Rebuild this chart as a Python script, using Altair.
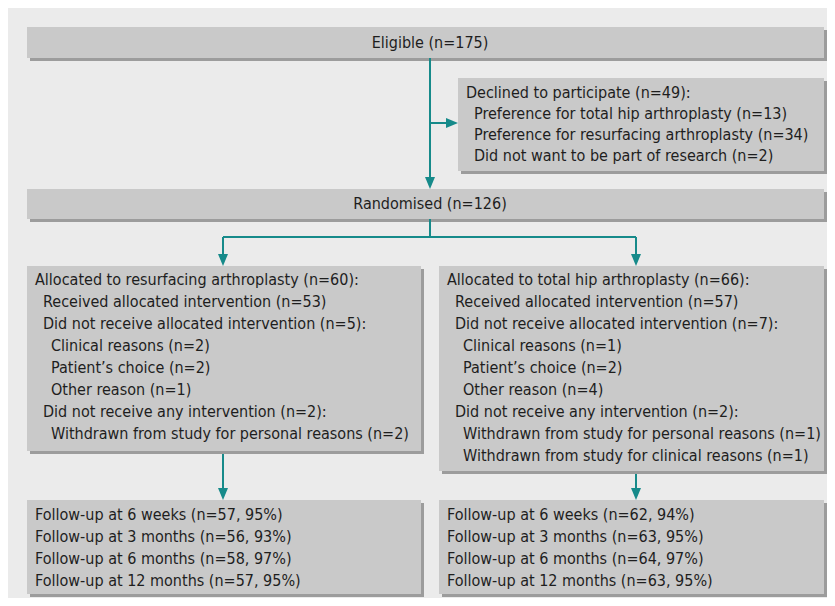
import altair as alt
import pandas as pd

# ---- text content ----
eligible_text = ["Eligible (n=175)"]
declined_text = [
    "Declined to participate (n=49):",
    "Preference for total hip arthroplasty (n=13)",
    "Preference for resurfacing arthroplasty (n=34)",
    "Did not want to be part of research (n=2)",
]
declined_level = [0, 1, 1, 1]
randomised_text = ["Randomised (n=126)"]
left_alloc_text = [
    "Allocated to resurfacing arthroplasty (n=60):",
    "Received allocated intervention (n=53)",
    "Did not receive allocated intervention (n=5):",
    "Clinical reasons (n=2)",
    "Patient\u2019s choice (n=2)",
    "Other reason (n=1)",
    "Did not receive any intervention (n=2):",
    "Withdrawn from study for personal reasons (n=2)",
]
left_alloc_level = [0, 1, 1, 2, 2, 2, 1, 2]
right_alloc_text = [
    "Allocated to total hip arthroplasty (n=66):",
    "Received allocated intervention (n=57)",
    "Did not receive allocated intervention (n=7):",
    "Clinical reasons (n=1)",
    "Patient\u2019s choice (n=2)",
    "Other reason (n=4)",
    "Did not receive any intervention (n=2):",
    "Withdrawn from study for personal reasons (n=1)",
    "Withdrawn from study for clinical reasons (n=1)",
]
right_alloc_level = [0, 1, 1, 2, 2, 2, 1, 2, 2]
left_follow_text = [
    "Follow-up at 6 weeks (n=57, 95%)",
    "Follow-up at 3 months (n=56, 93%)",
    "Follow-up at 6 months (n=58, 97%)",
    "Follow-up at 12 months (n=57, 95%)",
]
right_follow_text = [
    "Follow-up at 6 weeks (n=62, 94%)",
    "Follow-up at 3 months (n=63, 95%)",
    "Follow-up at 6 months (n=64, 97%)",
    "Follow-up at 12 months (n=63, 95%)",
]

# ---- layout (page pixel coordinates) ----
boxes = {
    "eligible": (27, 27, 824, 58),
    "declined": (458, 78, 824, 171),
    "randomised": (27, 189, 824, 219),
    "left_alloc": (27, 266, 421, 451),
    "right_alloc": (439, 266, 824, 471),
    "left_follow": (27, 500, 421, 594),
    "right_follow": (439, 500, 824, 594),
}

box_rows = []
for k, (x1, y1, x2, y2) in boxes.items():
    box_rows.append(dict(name=k, x=x1, x2=x2, y=y1, y2=y2,
                         sx=x1 + 3, sx2=x2 + 3, sy=y1 + 3, sy2=y2 + 3))
box_df = pd.DataFrame(box_rows)
bg_df = pd.DataFrame([dict(x=8, x2=827, y=8, y2=598)])

text_rows = []
def add_block(lines, levels, box, first, step, indent=8):
    x1 = boxes[box][0]
    for i, (t, lv) in enumerate(zip(lines, levels)):
        text_rows.append(dict(t=t, x=x1 + 8 + lv * indent, y=first + i * step))

add_block(declined_text, declined_level, "declined", 93, 21)
add_block(left_alloc_text, left_alloc_level, "left_alloc", 280, 22)
add_block(right_alloc_text, right_alloc_level, "right_alloc", 280, 22)
add_block(left_follow_text, [0] * 4, "left_follow", 515, 22)
add_block(right_follow_text, [0] * 4, "right_follow", 515, 22)
left_df = pd.DataFrame(text_rows)
center_df = pd.DataFrame([
    dict(t=eligible_text[0], x=430, y=43),
    dict(t=randomised_text[0], x=430, y=204),
])

lines_df = pd.DataFrame([
    dict(x=430, x2=430, y=58, y2=184),
    dict(x=430, x2=454, y=123, y2=123),
    dict(x=430, x2=430, y=219, y2=237),
    dict(x=223, x2=636, y=237, y2=237),
    dict(x=223, x2=223, y=237, y2=262),
    dict(x=636, x2=636, y=237, y2=262),
    dict(x=223, x2=223, y=454, y2=496),
    dict(x=636, x2=636, y=474, y2=496),
])
down_tips = pd.DataFrame([
    dict(x=430, y=189), dict(x=223, y=266), dict(x=636, y=266),
    dict(x=223, y=500), dict(x=636, y=500),
])
right_tips = pd.DataFrame([dict(x=458, y=123)])

XS = alt.Scale(domain=[8, 827], nice=False, zero=False)
YS = alt.Scale(domain=[598, 8], nice=False, zero=False)
TEAL = "#168a8a"
FONT = "DejaVu Sans Condensed"
FS = 16

def X(f="x"):
    return alt.X(f"{f}:Q", scale=XS, axis=None)

def Y(f="y"):
    return alt.Y(f"{f}:Q", scale=YS, axis=None)

bg = alt.Chart(bg_df).mark_rect(color="#ebebeb").encode(
    x=X(), x2="x2:Q", y=Y(), y2="y2:Q")
shadow = alt.Chart(box_df).mark_rect(color="#9c9c9c").encode(
    x=X("sx"), x2="sx2:Q", y=Y("sy"), y2="sy2:Q")
box = alt.Chart(box_df).mark_rect(color="#c9c9c9").encode(
    x=X(), x2="x2:Q", y=Y(), y2="y2:Q")
rules = alt.Chart(lines_df).mark_rule(color=TEAL, strokeWidth=2).encode(
    x=X(), x2="x2:Q", y=Y(), y2="y2:Q")
dtips = alt.Chart(down_tips).mark_point(
    shape="M-1,-2.4L1,-2.4L0,0Z", filled=True, size=100, color=TEAL, opacity=1, strokeWidth=0
).encode(x=X(), y=Y())
rtips = alt.Chart(right_tips).mark_point(
    shape="M-2.4,-1L-2.4,1L0,0Z", filled=True, size=100, color=TEAL, opacity=1, strokeWidth=0
).encode(x=X(), y=Y())
ltext = alt.Chart(left_df).mark_text(
    align="left", baseline="middle", font=FONT, fontSize=FS, color="#1e1e1e"
).encode(x=X(), y=Y(), text="t:N")
ctext = alt.Chart(center_df).mark_text(
    align="center", baseline="middle", font=FONT, fontSize=FS, color="#1e1e1e"
).encode(x=X(), y=Y(), text="t:N")

chart = alt.layer(bg, shadow, box, rules, dtips, rtips, ltext, ctext).properties(
    width=819, height=590, padding=0, autosize=alt.AutoSizeParams(type="none")
).configure_view(stroke=None).configure(background="white")

chart.save("out.html", embed_options={"renderer": "svg", "actions": False})
